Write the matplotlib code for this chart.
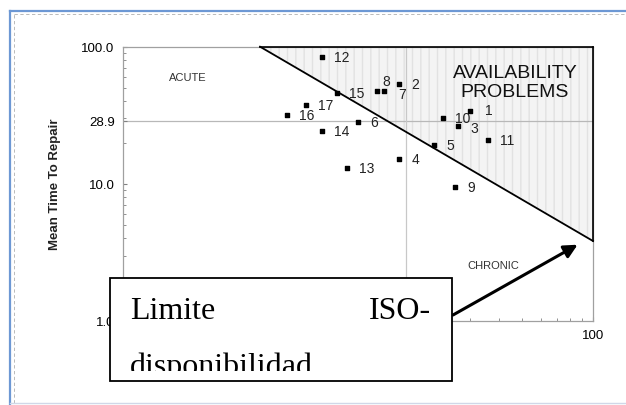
import matplotlib
matplotlib.use("Agg")
import matplotlib.pyplot as plt
from matplotlib.patches import Polygon, Rectangle
from matplotlib.lines import Line2D
from matplotlib.transforms import Bbox, TransformedBbox

# equipos: numero de fallas vs tiempo medio de reparacion
equipos = ['1', '2', '3', '4', '5', '6', '7', '8', '9', '10',
           '11', '12', '13', '14', '15', '16', '17']
fallas = [30.0, 15.0, 26.6, 15.0, 21.1, 10.0, 12.9, 12.0, 25.9, 23.0,
          35.6, 7.0, 8.95, 7.0, 8.1, 5.0, 6.0]
mttr = [34.1, 53.4, 26.3, 15.3, 19.2, 28.1, 47.2, 47.2, 9.5, 30.0,
        20.8, 83.7, 13.0, 24.4, 45.7, 31.7, 37.4]

mttr_limite = 28.9
fallas_limite = 16.0
iso_disp = 383.0  # fallas * MTTR constante

yticks = [1.0, 10.0, 28.9, 100.0]
ytick_labels = ['1.0', '10.0', '28.9', '100.0']
xticks = [1, 10, 100]
xtick_labels = ['1', '10', '100']

sans = 'Liberation Sans'
serif = 'Liberation Serif'

fig = plt.figure(figsize=(6.26, 4.06), dpi=100)
ax = fig.add_axes([0.1965, 0.2069, 0.7508, 0.6756])
ax.set_xscale('log')
ax.set_yscale('log')
ax.set_xlim(1, 100)
ax.set_ylim(1, 100)

for s in ax.spines.values():
    s.set_color('#a0a0a0')
    s.set_linewidth(0.9)

ax.set_yticks(yticks)
ax.set_yticklabels(ytick_labels, fontfamily=sans, fontsize=9.5)
ax.set_xticks(xticks)
ax.set_xticklabels(xtick_labels, fontfamily=sans, fontsize=9.5)
ax.tick_params(which='both', direction='in', color='#808080')
ax.tick_params(which='major', length=3, pad=6)
ax.tick_params(which='minor', length=2)

# umbrales
ax.axhline(mttr_limite, color='#b8b8b8', lw=0.9, zorder=1)
ax.axvline(fallas_limite, color='#c8c8c8', lw=0.9, zorder=1)

# zona de problemas de disponibilidad
x0 = iso_disp / 100
y1 = iso_disp / 100
tri = Polygon([(x0, 100), (100, 100), (100, y1)], closed=True,
              facecolor='#f4f4f4', edgecolor='#e2e2e2', hatch='||',
              lw=0, zorder=0.5)
ax.add_patch(tri)
ax.plot([x0, 100], [100, y1], color='black', lw=1.3, zorder=3, clip_on=False)
ax.plot([x0, 100], [100, 100], color='black', lw=1.2, zorder=3, clip_on=False)
ax.plot([100, 100], [100, y1], color='black', lw=1.2, zorder=3, clip_on=False)

ax.scatter(fallas, mttr, marker='s', s=7, color='black', zorder=4)

offsets = {'8': (6, 10), '7': (14, -3), '3': (13, -2), '1': (15, 1)}
for name, x, y in zip(equipos, fallas, mttr):
    dx, dy = offsets.get(name, (12, 0))
    ax.annotate(name, (x, y), xytext=(dx, dy), textcoords='offset pixels',
                ha='left', va='center', fontfamily=sans, fontsize=10,
                color='#222222', zorder=5)

ax.text(0.138, 0.89, 'ACUTE', transform=ax.transAxes, ha='center',
        va='center', fontfamily=sans, fontsize=8, color='#333333')
ax.text(0.788, 0.204, 'CHRONIC', transform=ax.transAxes, ha='center',
        va='center', fontfamily=sans, fontsize=8, color='#333333')
ax.text(0.834, 0.871, 'AVAILABILITY\nPROBLEMS', transform=ax.transAxes,
        ha='center', va='center', fontfamily=sans, fontsize=14,
        linespacing=1.15, color='#111111', zorder=5)

fig.text(55 / 626, 1 - 184 / 406, 'Mean Time To Repair', rotation=90,
         ha='center', va='center', fontfamily=sans, fontsize=9.5,
         fontweight='bold', color='#222222')

# cuadro de texto con flecha
box = Rectangle((110 / 626, 1 - 382 / 406), 342 / 626, 103 / 406,
                transform=fig.transFigure, facecolor='white',
                edgecolor='black', lw=1.3, zorder=10)
fig.add_artist(box)
fig.text(130 / 626, 1 - 319 / 406, 'Limite', fontfamily=serif, fontsize=23,
         va='baseline', ha='left', zorder=11)
fig.text(431 / 626, 1 - 319 / 406, 'ISO-', fontfamily=serif, fontsize=23,
         va='baseline', ha='right', zorder=11)
t = fig.text(130 / 626, 1 - 375 / 406, 'disponibilidad', fontfamily=serif,
             fontsize=23, va='baseline', ha='left', zorder=11)
t.set_clip_box(TransformedBbox(Bbox([[0, 1 - 372 / 406], [1, 1]]),
                               fig.transFigure))

ax.annotate('', xy=(86, 3.6), xycoords='data',
            xytext=(453 / 626, 1 - 316 / 406), textcoords='figure fraction',
            arrowprops=dict(arrowstyle='-|>', color='black', lw=2.2,
                            mutation_scale=20, shrinkA=0, shrinkB=0),
            annotation_clip=False, zorder=6)

# marco exterior
fig.add_artist(Line2D([10 / 626, 1], [1 - 12 / 406] * 2, color='#6d98d4',
                      lw=1.6, transform=fig.transFigure))
fig.add_artist(Line2D([10 / 626] * 2, [0, 1 - 12 / 406], color='#6d98d4',
                      lw=1.6, transform=fig.transFigure))
fig.add_artist(Line2D([14 / 626, 1], [1 - 15 / 406] * 2, color='#b0b0b0',
                      lw=0.6, ls=(0, (4, 3)), transform=fig.transFigure))
fig.add_artist(Line2D([14 / 626] * 2, [0.005, 1 - 15 / 406], color='#b0b0b0',
                      lw=0.6, ls=(0, (4, 3)), transform=fig.transFigure))
fig.add_artist(Line2D([10 / 626, 1], [2 / 406] * 2, color='#d0d8e8',
                      lw=1.0, transform=fig.transFigure))

fig.savefig('out.png', dpi=100)
